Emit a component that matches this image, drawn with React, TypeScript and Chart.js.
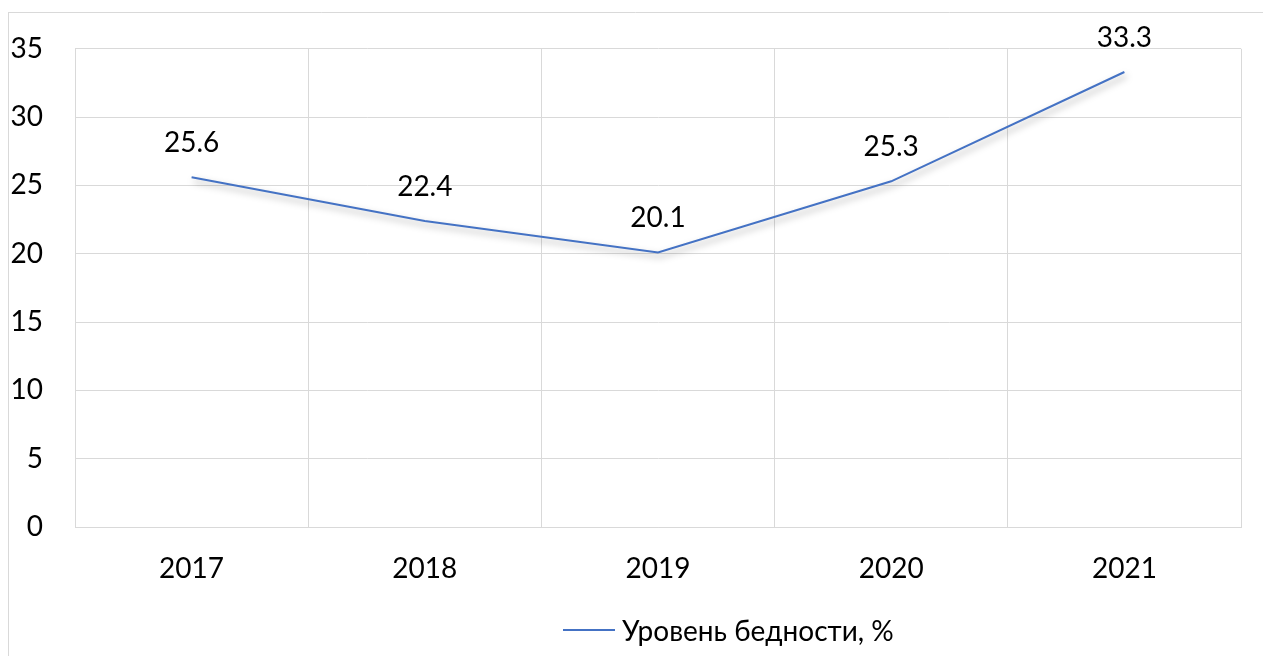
import React, { useEffect, useRef } from "react";
import { Chart, registerables } from "chart.js";

Chart.register(...registerables);

const years = ["2017", "2018", "2019", "2020", "2021"];
const povertyLevel = [25.6, 22.4, 20.1, 25.3, 33.3];
const seriesLabel = "Уровень бедности, %";
const yTicksMax = 35;
const yTicksStep = 5;

const FONT = "Lato, 'Noto Sans', sans-serif";
const FONT_SIZE = 28;
const GRID = "#d9d9d9";
const LINE = "#4472C4";

export default function App() {
  const ref = useRef<HTMLCanvasElement | null>(null);

  useEffect(() => {
    if (!ref.current) return;

    const framePlugin = {
      id: "frame",
      beforeDraw(chart: any) {
        const ctx = chart.ctx;
        ctx.save();
        ctx.fillStyle = "#ffffff";
        ctx.fillRect(0, 0, chart.width, chart.height);
        ctx.strokeStyle = GRID;
        ctx.lineWidth = 1;
        ctx.beginPath();
        ctx.moveTo(8, 12.5);
        ctx.lineTo(chart.width, 12.5);
        ctx.moveTo(8.5, 12);
        ctx.lineTo(8.5, chart.height);
        ctx.stroke();
        ctx.restore();
      },
    };

    const shadowPlugin = {
      id: "lineShadow",
      beforeDatasetsDraw(chart: any) {
        const ctx = chart.ctx;
        ctx.save();
        ctx.shadowColor = "rgba(0,0,0,0.35)";
        ctx.shadowBlur = 7;
        ctx.shadowOffsetX = 2;
        ctx.shadowOffsetY = 4;
      },
      afterDatasetsDraw(chart: any) {
        const ctx = chart.ctx;
        ctx.restore();
        const meta = chart.getDatasetMeta(0);
        const data = chart.data.datasets[0].data as number[];
        ctx.save();
        ctx.fillStyle = "#000000";
        ctx.font = `${FONT_SIZE}px ${FONT}`;
        ctx.textAlign = "center";
        ctx.textBaseline = "middle";
        meta.data.forEach((pt: any, i: number) => {
          ctx.fillText(data[i].toFixed(1), pt.x, pt.y - 34);
        });
        ctx.restore();
      },
      afterDraw(chart: any) {
        const ctx = chart.ctx;
        ctx.save();
        ctx.font = `${FONT_SIZE}px ${FONT}`;
        ctx.textBaseline = "middle";
        ctx.textAlign = "left";
        const x0 = 563;
        const y0 = 630;
        ctx.strokeStyle = LINE;
        ctx.lineWidth = 2;
        ctx.beginPath();
        ctx.moveTo(x0, y0);
        ctx.lineTo(x0 + 52, y0);
        ctx.stroke();
        ctx.fillStyle = "#000000";
        ctx.fillText(chart.data.datasets[0].label, x0 + 59, y0 + 2);
        ctx.restore();
      },
    };

    const chart = new Chart(ref.current, {
      type: "line",
      data: {
        labels: years,
        datasets: [
          {
            label: seriesLabel,
            data: povertyLevel,
            borderColor: LINE,
            backgroundColor: LINE,
            borderWidth: 2,
            pointRadius: 0,
            tension: 0,
          },
        ],
      },
      options: {
        responsive: false,
        animation: false,
        layout: { padding: { left: 0, top: 45, right: 22, bottom: 69 } },
        plugins: {
          legend: { display: false },
          tooltip: { enabled: false },
        },
        scales: {
          x: {
            offset: true,
            grid: { offset: true, color: GRID, lineWidth: 1, drawTicks: false },
            border: { color: GRID, width: 1 },
            ticks: {
              color: "#000000",
              font: { family: FONT, size: FONT_SIZE },
              padding: 25,
            },
            afterFit(scale: any) {
              scale.height = 60;
            },
          },
          y: {
            min: 0,
            max: yTicksMax,
            grid: { color: GRID, lineWidth: 1, drawTicks: false },
            border: { color: GRID, width: 1 },
            ticks: {
              stepSize: yTicksStep,
              color: "#000000",
              font: { family: FONT, size: FONT_SIZE },
              padding: 32,
            },
            afterFit(scale: any) {
              scale.width = 75;
            },
          },
        },
      },
      plugins: [framePlugin, shadowPlugin],
    });

    return () => chart.destroy();
  }, []);

  return (
    <div style={{ position: "fixed", left: 0, top: 0, width: 1263, height: 656, background: "#fff" }}>
      <canvas ref={ref} width={1263} height={656} style={{ display: "block" }} />
    </div>
  );
}
